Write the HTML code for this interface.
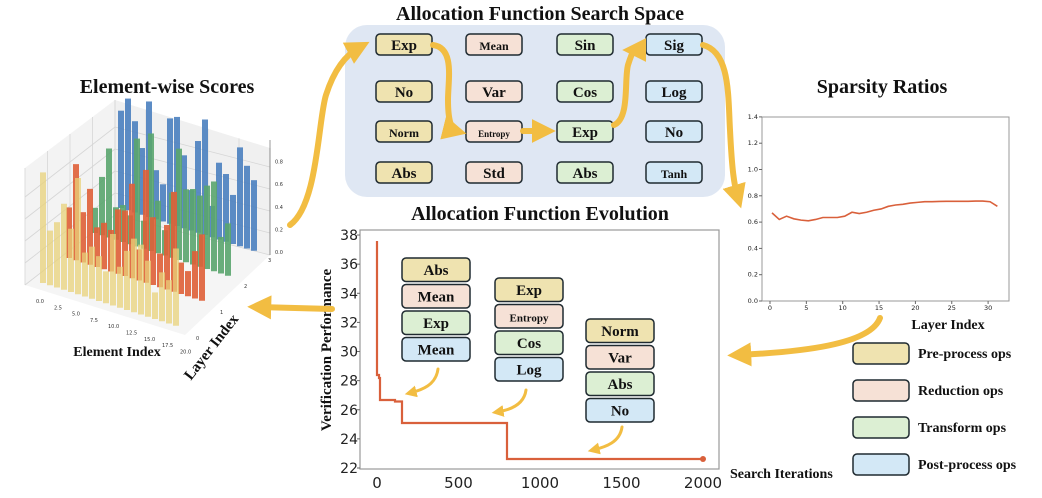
<!DOCTYPE html>
<html><head><meta charset="utf-8"><style>
html,body{margin:0;padding:0;background:#fff;width:1042px;height:498px;overflow:hidden}
svg{display:block}
.t{font-family:"Liberation Serif",serif;font-weight:bold;fill:#111}
.s{font-family:"DejaVu Sans","Liberation Sans",sans-serif;fill:#222}
</style></head><body>
<svg id="sv" width="1042" height="498" viewBox="0 0 1042 498" xmlns="http://www.w3.org/2000/svg">
<defs>
<marker id="ah" markerWidth="4" markerHeight="4" refX="2.2" refY="2" orient="auto" markerUnits="strokeWidth"><path d="M0,0 L4,2 L0,4 z" fill="#f2bd42"/></marker>
<marker id="ah2" markerWidth="4" markerHeight="4" refX="2.2" refY="2" orient="auto" markerUnits="strokeWidth"><path d="M0,0 L4,2 L0,4 z" fill="#f2bd42"/></marker>
</defs>
<text class="t" x="540" y="20" font-size="20" text-anchor="middle">Allocation Function Search Space</text>
<rect x="345" y="25" width="380" height="172" rx="22" fill="#dfe7f3"/>
<g id="boxes" class="t" font-size="15" text-anchor="middle"></g>

<text class="t" x="167" y="93" font-size="20" text-anchor="middle">Element-wise Scores</text>
<g id="g3d"></g>
<text class="t" x="117" y="356" font-size="14" text-anchor="middle">Element Index</text>
<text class="t" x="215" y="350" font-size="15" text-anchor="middle" transform="rotate(-52 215 350)">Layer Index</text>

<text class="t" x="540" y="220" font-size="20" text-anchor="middle">Allocation Function Evolution</text>
<rect x="360" y="230" width="359" height="239" fill="none" stroke="#999" stroke-width="1.2"/>
<g id="btick" class="s" font-size="14"></g>
<text class="t" x="331" y="350" font-size="15" text-anchor="middle" transform="rotate(-90 331 350)">Verification Performance</text>
<text class="t" x="730" y="478" font-size="14">Search Iterations</text>
<path d="M377,241 L377,375 L379,375 L379,378 L380,378 L380,400 L395,400 L395,401.5 L402,401.5 L402,410 L402,423 L507,423 L507,459 L703,459" fill="none" stroke="#d9603b" stroke-width="2.2"/>
<circle cx="703" cy="459" r="3" fill="#d9603b"/>

<text class="t" x="882" y="93" font-size="20" text-anchor="middle">Sparsity Ratios</text>
<rect x="762" y="117" width="247" height="184" fill="none" stroke="#999" stroke-width="1"/>
<g id="rtick" class="s" font-size="6.5"></g>
<text class="t" x="948" y="329" font-size="14" text-anchor="middle">Layer Index</text>
<polyline id="rline" fill="none" stroke="#d9603b" stroke-width="1.6"/>

<g class="t" font-size="14">
<rect x="853" y="343" width="56" height="21" rx="4" fill="#efe3b0" stroke="#1f2a30" stroke-width="1.5"/><text x="918" y="358">Pre-process ops</text>
<rect x="853" y="380" width="56" height="21" rx="4" fill="#f6e1d6" stroke="#1f2a30" stroke-width="1.5"/><text x="918" y="395">Reduction ops</text>
<rect x="853" y="417" width="56" height="21" rx="4" fill="#dcefd3" stroke="#1f2a30" stroke-width="1.5"/><text x="918" y="432">Transform ops</text>
<rect x="853" y="454" width="56" height="21" rx="4" fill="#d3e8f6" stroke="#1f2a30" stroke-width="1.5"/><text x="918" y="469">Post-process ops</text>
</g>

<g fill="none" stroke="#f2bd42" stroke-width="6" stroke-linecap="round">
<path d="M290,225 C318,205 318,120 326,95 C334,70 345,55 360,47" marker-end="url(#ah)"/>
<path d="M433,45 C455,48 448,80 448,100 C448,122 452,130 456,131" marker-end="url(#ah)"/>
<path d="M523,131 L545,131" marker-end="url(#ah)"/>
<path d="M614,125 C630,118 624,80 628,65 C631,55 634,50 633,50" marker-end="url(#ah)"/>
<path d="M703,45 C730,52 728,95 730,130 C732,170 734,185 738,198" marker-end="url(#ah)"/>
<path d="M880,318 C870,345 800,352 738,355" marker-end="url(#ah)"/>
<path d="M332,309 L258,307" marker-end="url(#ah)"/>
</g>
<g fill="none" stroke="#f2bd42" stroke-width="3" stroke-linecap="round">
<path d="M438,369 C436,385 422,390 410,393" marker-end="url(#ah2)"/>
<path d="M526,390 C524,405 510,410 497,412" marker-end="url(#ah2)"/>
<path d="M622,427 C620,442 606,447 593,450" marker-end="url(#ah2)"/>
</g>
<g id="stk" class="t" text-anchor="middle"></g>
</svg>
<script>
var NS="http://www.w3.org/2000/svg";
function el(p,t,a,txt){var e=document.createElementNS(NS,t);for(var k in a)e.setAttribute(k,a[k]);if(txt!==undefined)e.textContent=txt;p.appendChild(e);return e;}
var C={p:"#efe3b0",r:"#f6e1d6",t:"#dcefd3",o:"#d3e8f6"};
var bx=document.getElementById("boxes");
var cols=[[376,"p",["Exp","No","Norm","Abs"]],[466,"r",["Mean","Var","Entropy","Std"]],[557,"t",["Sin","Cos","Exp","Abs"]],[646,"o",["Sig","Log","No","Tanh"]]];
var rows=[34,81,121,162];
cols.forEach(function(c){c[2].forEach(function(n,i){el(bx,"rect",{x:c[0],y:rows[i],width:56,height:21,rx:4,fill:C[c[1]],stroke:"#1f2a30","stroke-width":1.5});
var fs=n=="Entropy"?9:(n=="Mean"||n=="Norm"||n=="Tanh"?12:15);el(bx,"text",{x:c[0]+28,y:rows[i]+16,"font-size":fs},n);});});
var st=document.getElementById("stk");
var groups=[[402,258,["Abs","Mean","Exp","Mean"]],[495,278,["Exp","Entropy","Cos","Log"]],[586,319,["Norm","Var","Abs","No"]]];
var ks=["p","r","t","o"];
groups.forEach(function(g){g[2].forEach(function(n,i){var y=g[1]+i*26.5;el(st,"rect",{x:g[0],y:y,width:68,height:23.5,rx:4,fill:C[ks[i]],stroke:"#1f2a30","stroke-width":1.5});
el(st,"text",{x:g[0]+34,y:y+17,"font-size":n=="Entropy"?11:15},n);});});
var bt=document.getElementById("btick");
for(var v=22;v<=38;v+=2){var y=468-(v-22)*14.56;el(bt,"text",{x:358,y:y+5,"text-anchor":"end"},v);el(bt,"line",{x1:357,x2:360,y1:y,y2:y,stroke:"#666"});}
[0,500,1000,1500,2000].forEach(function(t){var x=377+t*0.163;el(bt,"text",{x:x,y:488,"text-anchor":"middle","font-size":15},t);});
var rt=document.getElementById("rtick");
for(var i=0;i<=7;i++){var y=301-i*26.3;el(rt,"text",{x:758,y:y+2,"text-anchor":"end"},(i*0.2).toFixed(1));el(rt,"line",{x1:759,x2:762,y1:y,y2:y,stroke:"#666"});}
for(var i=0;i<=30;i+=5){var x=770+i*7.27;el(rt,"text",{x:x,y:310,"text-anchor":"middle"},i);el(rt,"line",{x1:x,x2:x,y1:301,y2:304,stroke:"#666"});}
var rv=[0.67,0.62,0.645,0.625,0.615,0.61,0.62,0.635,0.635,0.635,0.645,0.675,0.665,0.675,0.69,0.70,0.72,0.73,0.735,0.745,0.75,0.755,0.755,0.757,0.758,0.758,0.758,0.758,0.76,0.76,0.755,0.72];
document.getElementById("rline").setAttribute("points",rv.map(function(v,i){return (772+i*7.27)+","+(301-v*131.5)}).join(" "));
var g=document.getElementById("g3d");
var gl={stroke:"#d6d6d6","stroke-width":0.8,fill:"none"};
el(g,"polygon",{points:"25,285 115,215 115,100 25,168",fill:"#f3f3f3",stroke:"none"});
el(g,"polygon",{points:"115,215 270,255 270,148 115,100",fill:"#f0f0f0",stroke:"none"});
el(g,"polygon",{points:"25,285 185,335 270,255 115,215",fill:"#f5f5f5",stroke:"none"});
for(var i=0;i<=4;i++){var t=i/4;el(g,"line",Object.assign({x1:25+90*t,y1:168-68*t,x2:25+90*t,y2:285-70*t},gl));}
for(var i=0;i<=5;i++){var t=i/5;el(g,"line",Object.assign({x1:115+155*t,y1:100+48*t,x2:115+155*t,y2:215+40*t},gl));}
for(var i=0;i<=4;i++){var h=i*22;el(g,"line",Object.assign({x1:25,y1:285-h,x2:115,y2:215-h},gl));el(g,"line",Object.assign({x1:115,y1:215-h,x2:270,y2:255-h},gl));}
function rnd(s){var x=Math.sin(s*12.9898)*43758.5453;return x-Math.floor(x);}
var rc=["#e8d27a","#df5f37","#5aa56e","#4a80bf"];var op=[0.75,0.9,0.9,0.9];
for(var r=3;r>=0;r--){for(var e=0;e<20;e++){var x=43+e*7+r*26,yb=283+e*2.25-r*25;var v=0.2+0.8*rnd(r*31+e*7+1);var h=v*118;
el(g,"rect",{x:x-3,y:yb-h,width:6,height:h,fill:rc[r],"fill-opacity":op[r]});}}
var tk={"font-family":"DejaVu Sans,sans-serif","font-size":5,fill:"#333"};
["0.0","2.5","5.0","7.5","10.0","12.5","15.0","17.5","20.0"].forEach(function(s,i){el(g,"text",Object.assign({x:36+i*18,y:303+i*6.3},tk),s);});
[0,1,2,3].forEach(function(s,i){el(g,"text",Object.assign({x:196+i*24,y:340-i*26},tk),s);});
["0.0","0.2","0.4","0.6","0.8"].forEach(function(s,i){el(g,"text",Object.assign({x:275,y:254-i*22.6},tk),s);});
el(g,"line",{x1:270,y1:255,x2:270,y2:140,stroke:"#555","stroke-width":0.6});
</script>
</body></html>
